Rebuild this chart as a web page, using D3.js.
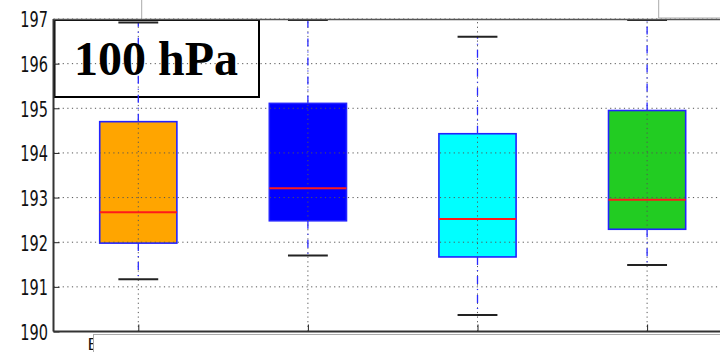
<!DOCTYPE html>
<html>
<head>
<meta charset="utf-8">
<script src="https://cdn.jsdelivr.net/npm/d3@7"></script>
<style>
  body { margin: 0; background: #fff; }
  svg { display: block; }
</style>
</head>
<body>
<svg width="720" height="352"></svg>
<script>
// box statistics (hPa level height, dam)
var positions = [1, 2, 3, 4];
var whiskLow  = [191.17, 191.70, 190.37, 191.49];
var q1        = [191.98, 192.48, 191.67, 192.29];
var medians   = [192.67, 193.21, 192.52, 192.95];
var q3        = [194.70, 195.11, 194.43, 194.95];
var whiskHigh = [196.92, 196.98, 196.60, 196.98];
var boxColors = ["#ffa500", "#0000ff", "#00ffff", "#22cc22"];
var yTicks    = [190, 191, 192, 193, 194, 195, 196, 197];
var panelLabel = "100 hPa";

var svg = d3.select("svg");

var x = d3.scaleLinear().domain([0.5, 4.5]).range([53.5, 731.9]);
var y = d3.scaleLinear().domain([190, 197]).range([331.5, 19]);

var boxW = 0.455, capW = 0.235;

var boxes = positions.map(function(p, i) {
  return {pos: p, lo: whiskLow[i], q1: q1[i], med: medians[i], q3: q3[i], hi: whiskHigh[i], color: boxColors[i]};
});

// label frame sits under the plot marks, its text on top
svg.append("rect")
  .attr("x", 54.5).attr("y", 20)
  .attr("width", 204.5).attr("height", 77)
  .attr("fill", "#fff")
  .attr("stroke", "#000").attr("stroke-width", 2);

var g = svg.append("g");

// boxes first, grid goes over them (classic style)
g.selectAll("rect.box")
  .data(boxes)
  .enter().append("rect")
    .attr("class", "box")
    .attr("x", function(d) { return x(d.pos - boxW / 2); })
    .attr("width", x(1 + boxW) - x(1))
    .attr("y", function(d) { return y(d.q3); })
    .attr("height", function(d) { return y(d.q1) - y(d.q3); })
    .attr("fill", function(d) { return d.color; })
    .attr("stroke", "#2222ff")
    .attr("stroke-width", 1.6);

// grid
g.append("g")
  .selectAll("line")
  .data(yTicks)
  .enter().append("line")
    .attr("x1", x(0.5)).attr("x2", 720)
    .attr("y1", function(d) { return y(d); })
    .attr("y2", function(d) { return y(d); })
    .attr("stroke", "#555")
    .attr("stroke-width", 1)
    .attr("stroke-dasharray", "1.2,3.4");

g.append("g")
  .selectAll("line")
  .data(positions)
  .enter().append("line")
    .attr("x1", function(d) { return x(d); })
    .attr("x2", function(d) { return x(d); })
    .attr("y1", y(190)).attr("y2", y(197))
    .attr("stroke", "#555")
    .attr("stroke-width", 1)
    .attr("stroke-dasharray", "1.2,3.4");

// whiskers
var wk = g.append("g");
wk.selectAll("line.up")
  .data(boxes)
  .enter().append("line")
    .attr("x1", function(d) { return x(d.pos); })
    .attr("x2", function(d) { return x(d.pos); })
    .attr("y1", function(d) { return y(d.q3); })
    .attr("y2", function(d) { return y(d.hi); })
    .attr("stroke", "#2a2aff")
    .attr("stroke-width", 1.3)
    .attr("stroke-dasharray", "8,5,1,5");
wk.selectAll("line.down")
  .data(boxes)
  .enter().append("line")
    .attr("x1", function(d) { return x(d.pos); })
    .attr("x2", function(d) { return x(d.pos); })
    .attr("y1", function(d) { return y(d.q1); })
    .attr("y2", function(d) { return y(d.lo); })
    .attr("stroke", "#2a2aff")
    .attr("stroke-width", 1.3)
    .attr("stroke-dasharray", "8,5,1,5");

// caps
["lo", "hi"].forEach(function(k) {
  g.append("g")
    .selectAll("line")
    .data(boxes)
    .enter().append("line")
      .attr("x1", function(d) { return x(d.pos - capW / 2); })
      .attr("x2", function(d) { return x(d.pos + capW / 2); })
      .attr("y1", function(d) { return y(d[k]); })
      .attr("y2", function(d) { return y(d[k]); })
      .attr("stroke", "#222")
      .attr("stroke-width", 2);
});

// medians
g.append("g")
  .selectAll("line")
  .data(boxes)
  .enter().append("line")
    .attr("x1", function(d) { return x(d.pos - boxW / 2); })
    .attr("x2", function(d) { return x(d.pos + boxW / 2); })
    .attr("y1", function(d) { return y(d.med); })
    .attr("y2", function(d) { return y(d.med); })
    .attr("stroke", "#ff1a1a")
    .attr("stroke-width", 2);

// y axis (ticks inward, narrow labels)
var yAxis = svg.append("g")
  .attr("transform", "translate(" + x(0.5) + ",0)")
  .call(d3.axisLeft(y).tickValues(yTicks).tickSize(-6).tickPadding(0).tickFormat(d3.format("d")));
yAxis.select(".domain").remove();
yAxis.selectAll(".tick line").attr("stroke", "#222");
yAxis.selectAll(".tick text")
  .attr("x", 0)
  .attr("dy", "0.36em")
  .attr("transform", "translate(-5.5,0) scale(0.66,1)")
  .style("font-family", "DejaVu Sans")
  .style("font-size", "22px")
  .attr("fill", "#111");

// x ticks (inward), labels hidden under the panel below
var xAxis = svg.append("g")
  .attr("transform", "translate(0," + y(190) + ")")
  .call(d3.axisBottom(x).tickValues(positions).tickSize(-7).tickFormat(""));
xAxis.select(".domain").remove();
xAxis.selectAll(".tick line").attr("stroke", "#222");

// spines
svg.append("line")
  .attr("x1", x(0.5)).attr("x2", 720)
  .attr("y1", y(190)).attr("y2", y(190))
  .attr("stroke", "#333").attr("stroke-width", 2);
svg.append("line")
  .attr("x1", x(0.5)).attr("x2", x(0.5))
  .attr("y1", y(197)).attr("y2", y(190))
  .attr("stroke", "#333").attr("stroke-width", 2);
svg.append("line")
  .attr("x1", x(0.5)).attr("x2", 720)
  .attr("y1", y(197) + 0.5).attr("y2", y(197) + 0.5)
  .attr("stroke", "#555").attr("stroke-width", 1.5);

// bits of neighbouring panels cut into the picture
svg.append("line")
  .attr("x1", 141.7).attr("x2", 141.7).attr("y1", 0).attr("y2", 18)
  .attr("stroke", "#aaa").attr("stroke-width", 1);
svg.append("line")
  .attr("x1", 658.7).attr("x2", 658.7).attr("y1", 0).attr("y2", 18)
  .attr("stroke", "#aaa").attr("stroke-width", 1);
svg.append("line")
  .attr("x1", 658.7).attr("x2", 720).attr("y1", 18).attr("y2", 18)
  .attr("stroke", "#aaa").attr("stroke-width", 1);

svg.append("text")
  .attr("x", 87.5).attr("y", 350)
  .style("font-family", "DejaVu Sans")
  .style("font-size", "16px")
  .attr("fill", "#111")
  .text("E");
svg.append("rect")
  .attr("x", 93.5).attr("y", 334.5)
  .attr("width", 640).attr("height", 30)
  .attr("fill", "#fff")
  .attr("stroke", "#aaa").attr("stroke-width", 1);

// panel label text
svg.append("text")
  .attr("x", 156).attr("y", 75)
  .attr("text-anchor", "middle")
  .style("font-family", "Liberation Serif")
  .style("font-weight", "bold")
  .style("font-size", "48px")
  .attr("fill", "#000")
  .text(panelLabel);
</script>
</body>
</html>
